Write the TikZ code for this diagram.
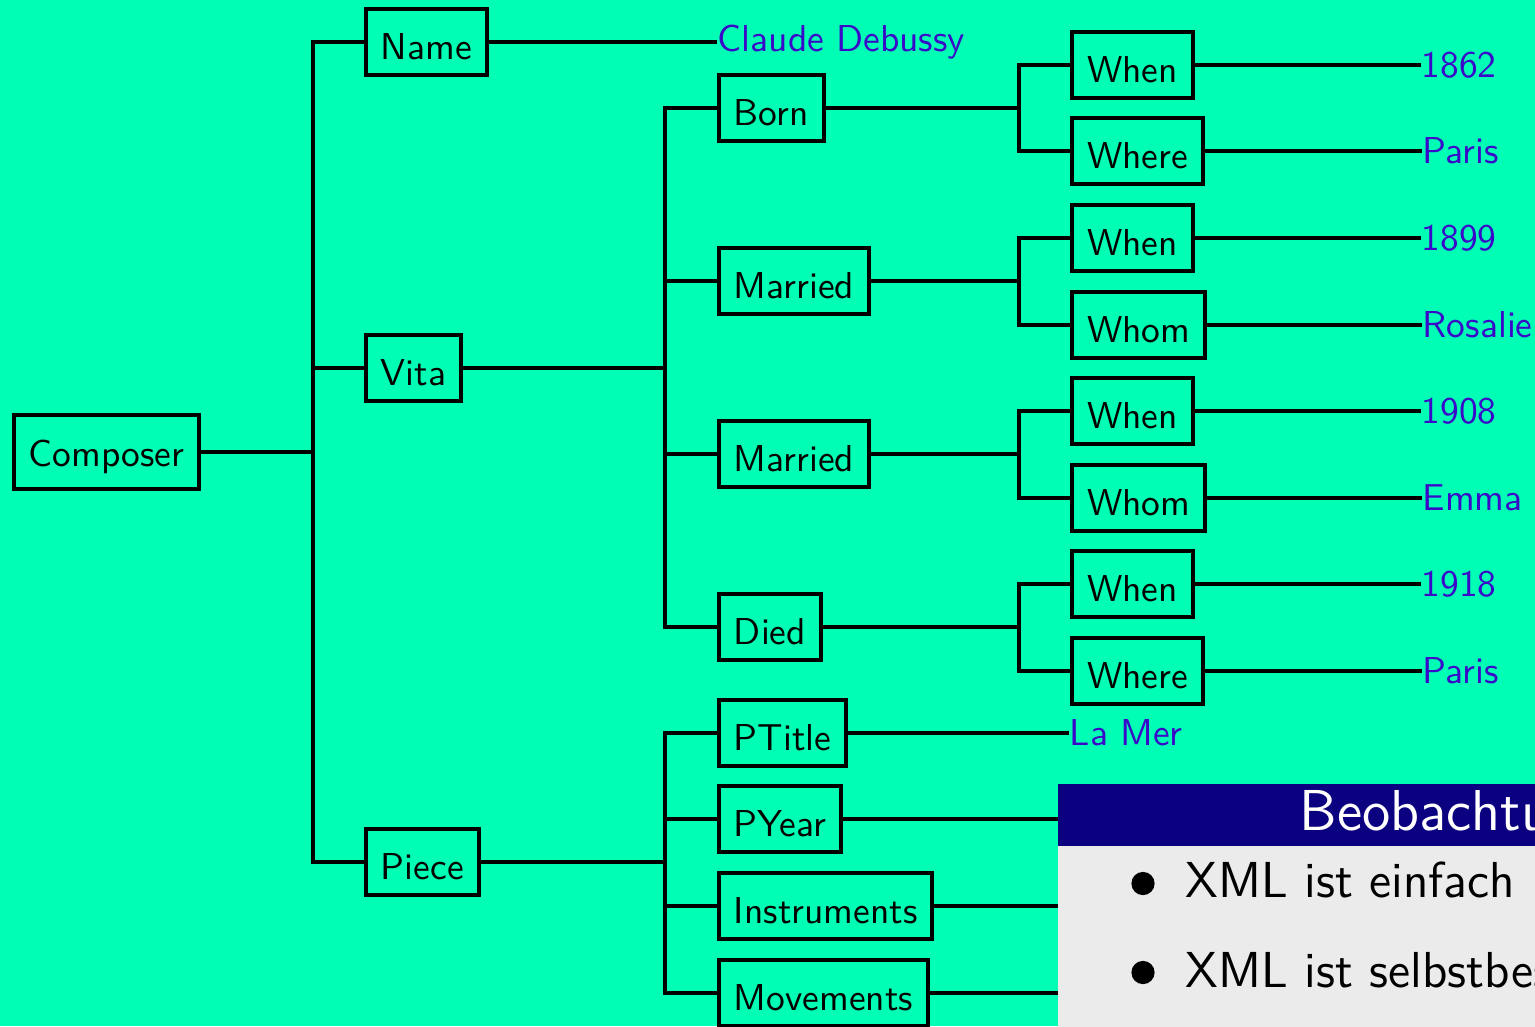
\documentclass[tikz,border=0pt]{standalone}
\usepackage{xcolor}
\definecolor{bgcol}{RGB}{0,255,180}
\definecolor{leafcol}{RGB}{58,8,200}
\definecolor{navy}{RGB}{10,0,128}
\definecolor{blockgray}{RGB}{235,235,235}
\newcommand{\treefont}{\sffamily\fontsize{10}{12}\selectfont}
\newcommand{\titlefont}{\sffamily\fontsize{15.4}{18}\selectfont}
\newcommand{\itemfont}{\sffamily\fontsize{13.5}{16}\selectfont}
\begin{document}
\begin{tikzpicture}[x=0.26695pt,y=-0.26695pt,
  tbox/.style={draw=black, line width=1.07pt, inner xsep=4pt, inner ysep=4pt, text height=9.6pt, anchor=west, font=\treefont, text=black},
  leaf/.style={inner sep=0pt, anchor=west, font=\treefont, text=leafcol},
  conn/.style={draw=black, line width=0.92pt},
  titletext/.style={inner sep=0pt, anchor=base west, font=\titlefont, text=white},
  itemtext/.style={inner sep=0pt, anchor=base west, font=\itemfont, text=black},
  bulletdot/.style={circle, fill=black, inner sep=0pt, minimum size=6.2pt}]
\useasboundingbox (0,0) rectangle (1535,1026);
\fill[bgcol] (0,0) rectangle (1535,1026);
% junction columns
\coordinate (j1) at (313,0);
\coordinate (j2) at (665,0);
\coordinate (j3) at (1019,0);
% level 0
\node[tbox] (composer) at (12,452) {Composer};
% level 1
\node[tbox] (name) at (364,42) {Name};
\node[tbox] (vita) at (364,368) {Vita};
\node[tbox] (piece) at (364,862) {Piece};
% level 2
\node[tbox] (born) at (717,108) {Born};
\node[tbox] (married1) at (717,281) {Married};
\node[tbox] (married2) at (717,454) {Married};
\node[tbox] (died) at (717,627) {Died};
\node[tbox] (ptitle) at (717,733) {PTitle};
\node[tbox] (pyear) at (717,819) {PYear};
\node[tbox] (instr) at (717,906) {Instruments};
\node[tbox] (movem) at (717,993) {Movements};
% level 3
\node[tbox] (bwhen) at (1070,65) {When};
\node[tbox] (bwhere) at (1070,151) {Where};
\node[tbox] (m1when) at (1070,238) {When};
\node[tbox] (m1whom) at (1070,325) {Whom};
\node[tbox] (m2when) at (1070,411) {When};
\node[tbox] (m2whom) at (1070,498) {Whom};
\node[tbox] (dwhen) at (1070,584) {When};
\node[tbox] (dwhere) at (1070,671) {Where};
% leaves
\node[leaf] (claude) at (717,42) {Claude Debussy};
\node[leaf] (v1862) at (1421,65) {1862};
\node[leaf] (vparis1) at (1422,151) {Paris};
\node[leaf] (v1899) at (1421,238) {1899};
\node[leaf] (vrosalie) at (1422,325) {Rosalie};
\node[leaf] (v1908) at (1421,411) {1908};
\node[leaf] (vemma) at (1422,498) {Emma};
\node[leaf] (v1918) at (1421,584) {1918};
\node[leaf] (vparis2) at (1422,671) {Paris};
\node[leaf] (lamer) at (1069,733) {La Mer};
\coordinate (pyearend) at (1080,819);
\coordinate (instrend) at (1080,906);
\coordinate (movemend) at (1080,993);
% connectors level 0 -> 1
\foreach \c in {name,vita,piece}
  \draw[conn] (composer.east) -- (composer.east -| j1) |- (\c.west);
% vita -> level 2
\foreach \c in {born,married1,married2,died}
  \draw[conn] (vita.east) -- (vita.east -| j2) |- (\c.west);
% piece -> level 2
\foreach \c in {ptitle,pyear,instr,movem}
  \draw[conn] (piece.east) -- (piece.east -| j2) |- (\c.west);
% level 2 -> level 3
\foreach \p/\a/\b in {born/bwhen/bwhere, married1/m1when/m1whom, married2/m2when/m2whom, died/dwhen/dwhere}{
  \draw[conn] (\p.east) -- (\p.east -| j3) |- (\a.west);
  \draw[conn] (\p.east -| j3) |- (\b.west);
}
% leaves
\draw[conn] (name.east) -- (claude.west);
\draw[conn] (bwhen.east) -- (v1862.west);
\draw[conn] (bwhere.east) -- (vparis1.west);
\draw[conn] (m1when.east) -- (v1899.west);
\draw[conn] (m1whom.east) -- (vrosalie.west);
\draw[conn] (m2when.east) -- (v1908.west);
\draw[conn] (m2whom.east) -- (vemma.west);
\draw[conn] (dwhen.east) -- (v1918.west);
\draw[conn] (dwhere.east) -- (vparis2.west);
\draw[conn] (ptitle.east) -- (lamer.west);
\draw[conn] (pyear.east) -- (pyearend);
\draw[conn] (instr.east) -- (instrend);
\draw[conn] (movem.east) -- (movemend);
% block
\begin{scope}
\clip (0,0) rectangle (1535,1026);
\fill[navy] (1058,784) rectangle (1935,846);
\fill[blockgray] (1058,846) rectangle (1935,1100);
\node[titletext] (btitle) at (1299,830) {Beobachtungen};
\node[bulletdot] (bul1) at (1143,883.5) {};
\node[itemtext] (item1) at (1185,897) {XML ist einfach};
\node[bulletdot] (bul2) at (1143,972.5) {};
\node[itemtext] (item2) at (1185,987) {XML ist selbstbeschreibend};
\end{scope}
\end{tikzpicture}
\end{document}
